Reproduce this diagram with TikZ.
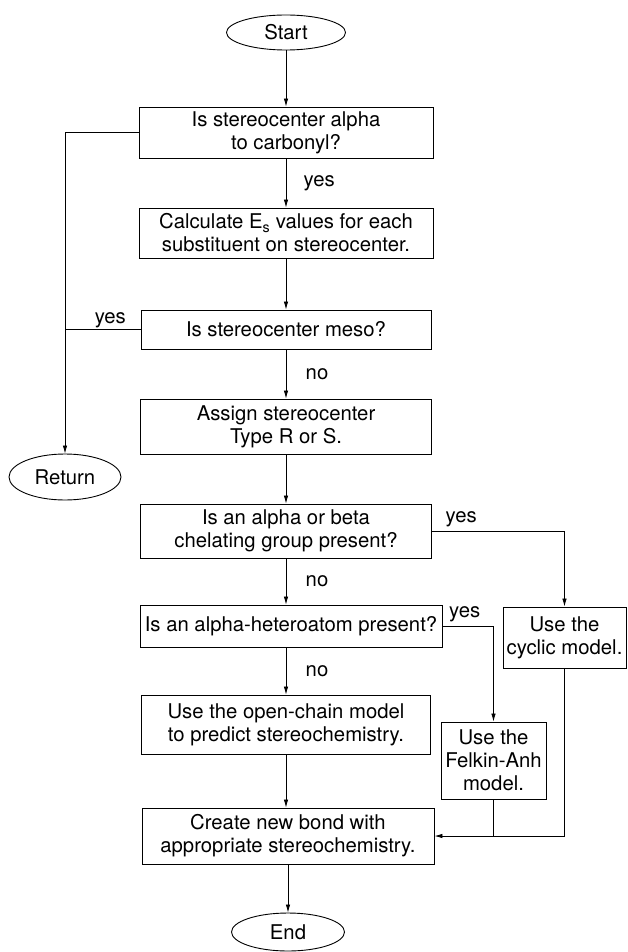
\documentclass[tikz,border=0pt]{standalone}
\usepackage{fontspec}
\setmainfont{TeX Gyre Heros}
\usetikzlibrary{arrows.meta,shapes.geometric,positioning}

\begin{document}
\begin{tikzpicture}[x=1pt,y=-1pt, every node/.style={font=\fontsize{20.3}{23}\selectfont},
  box/.style={draw,line width=0.9pt,inner sep=0pt,align=center},
  term/.style={draw,ellipse,line width=0.9pt,inner sep=0pt},
  flow/.style={-{Latex[length=8pt,width=4.5pt]},line width=0.8pt},
  wire/.style={line width=0.8pt}]
\useasboundingbox (0,0) rectangle (627,952);
\node[term,minimum width=119pt,minimum height=35pt] (s) at (286,32.5) {Start};
\node[box,minimum width=294pt,minimum height=51pt] (a) at (286,132.5) {Is stereocenter alpha\\to carbonyl?};
\node[box,minimum width=294pt,minimum height=50pt] (c) at (286,233) {Calculate E\textsubscript{s} values for each\\substituent on stereocenter.};
\node[box,minimum width=290pt,minimum height=39pt] (m) at (286,329.5) {Is stereocenter meso?};
\node[box,minimum width=291pt,minimum height=55pt] (t) at (286,426.5) {Assign stereocenter\\Type R or S.};
\node[box,minimum width=291pt,minimum height=54pt] (ch) at (286,531) {Is an alpha or beta\\chelating group present?};
\node[box,minimum width=302pt,minimum height=42pt] (h) at (291,626) {Is an alpha-heteroatom present?};
\node[box,minimum width=289pt,minimum height=59pt] (oc) at (286,724.5) {Use the open-chain model\\to predict stereochemistry.};
\node[box,minimum width=292pt,minimum height=56pt] (nb) at (288,836) {Create new bond with\\appropriate stereochemistry.};
\node[box,minimum width=123pt,minimum height=61pt] (cy) at (564.5,637.5) {Use the\\cyclic model.};
\node[box,minimum width=105pt,minimum height=77pt] (fa) at (493.5,760.5) {Use the\\Felkin-Anh\\model.};
\node[term,minimum width=112pt,minimum height=46pt] (r) at (65,477) {Return};
\node[term,minimum width=113pt,minimum height=38pt] (e) at (288,932) {End};
\draw[flow] (s) -- (a);
\draw[flow] (a) -- node[right=14pt]{yes} (c);
\draw[flow] (c) -- (m);
\draw[flow] (m) -- node[right=16pt]{no} (t);
\draw[flow] (t) -- (ch);
\draw[flow] (ch) -- node[right=16pt]{no} (ch.south |- h.north);
\draw[flow] (h.south -| oc.north) -- node[right=16pt]{no} (oc);
\draw[flow] (oc) -- (nb.north -| oc.south);
\draw[flow] (nb) -- (e);
\draw[line width=1.6pt] (a.west) -- (a.west -| r.north);
\draw[flow] (a.west -| r.north) -- (r);
\draw[wire] (m.west) -- node[pos=0.4,above,inner sep=1pt]{yes} (m.west -| r.north);
\draw[flow] (ch.east) -- node[pos=0,anchor=south west,xshift=10pt]{yes} (ch.east -| cy.north) -- (cy);
\draw[flow] (h.east) -- node[pos=0,anchor=south west,xshift=3pt]{yes} (h.east -| fa.north) -- (fa);
\draw[flow] (cy.south) |- (nb.east);
\draw[wire] (fa.south) -- (fa.south |- nb.east);
\end{tikzpicture}
\end{document}
